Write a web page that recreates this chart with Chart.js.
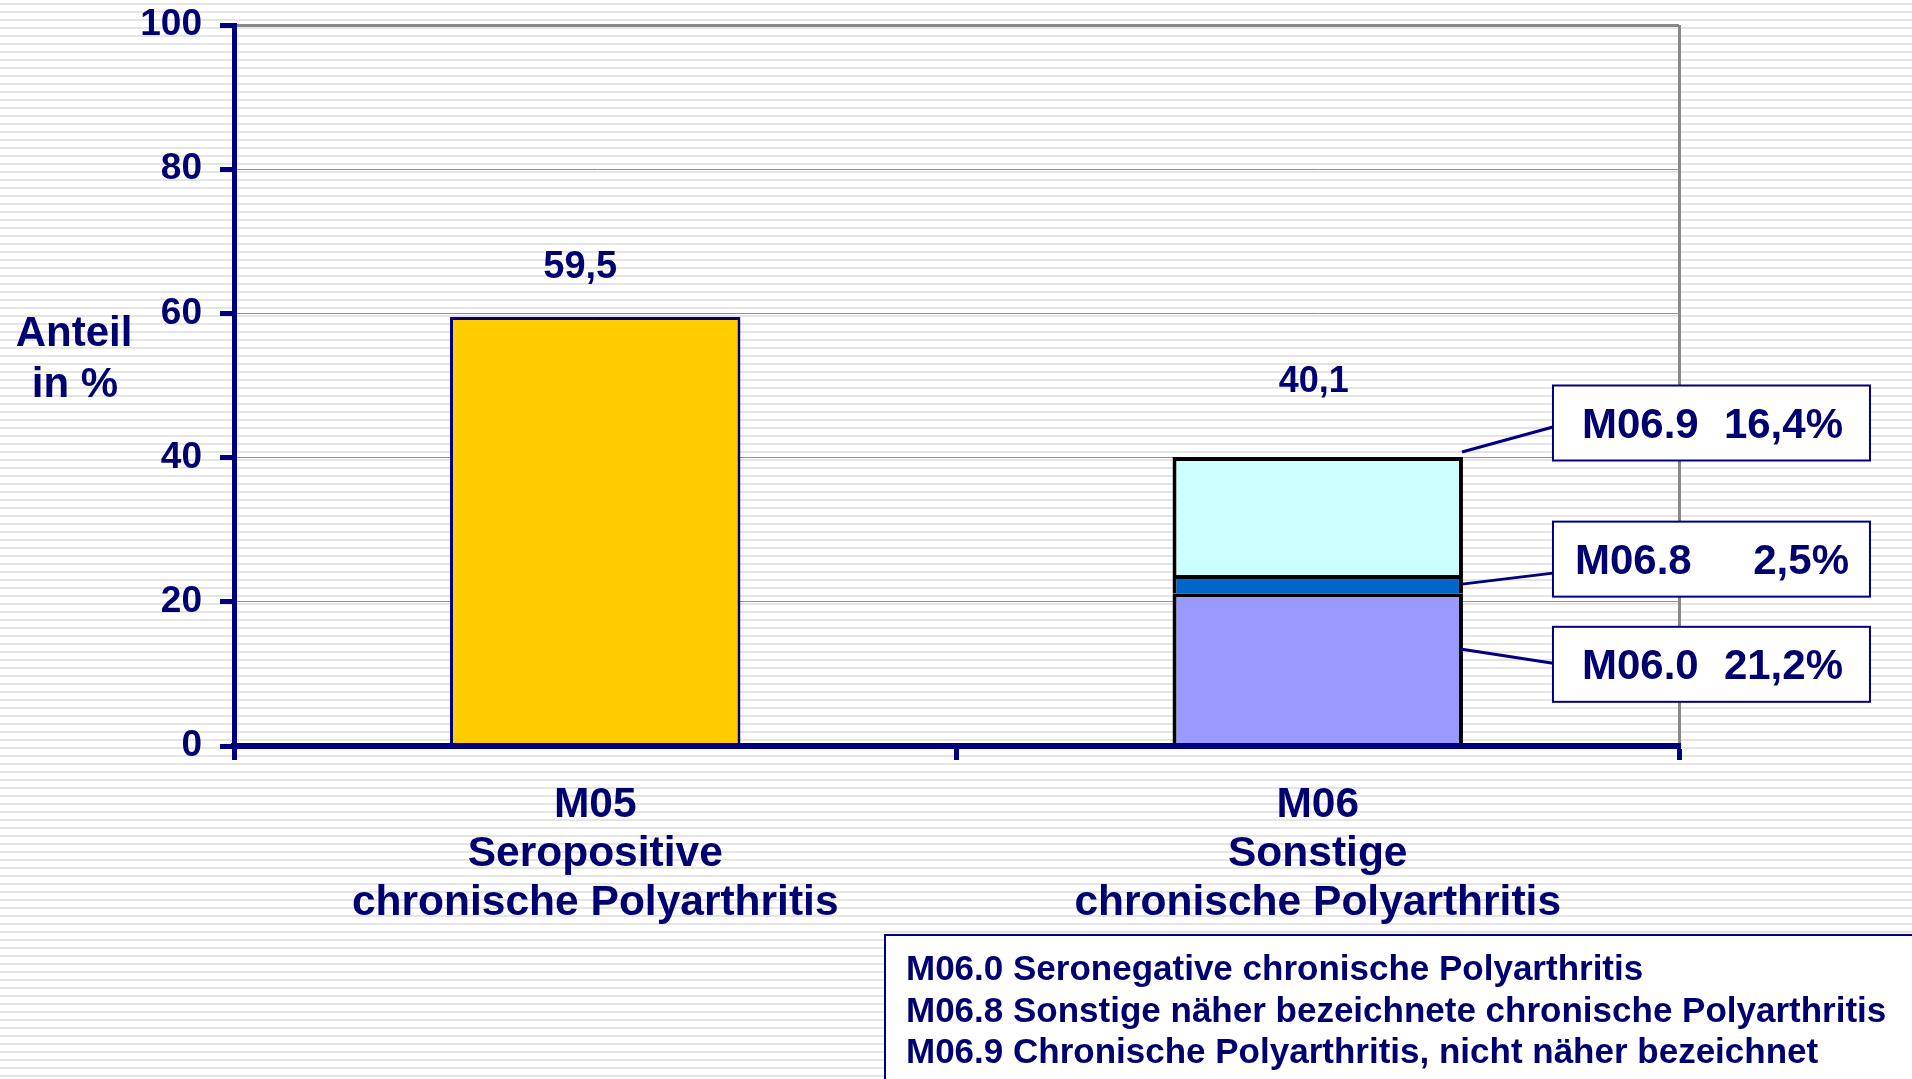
<!DOCTYPE html>
<html>
<head>
<meta charset="utf-8">
<script src="https://cdn.jsdelivr.net/npm/chart.js"></script>
<style>
html,body{margin:0;padding:0;overflow:hidden;}
body{width:1912px;height:1079px;
background:repeating-linear-gradient(to bottom,#ffffff 0px,#ffffff 3px,#e2e2e2 3px,#e6e6e6 5px,#ffffff 5px,#ffffff 8px);}
#wrap{position:absolute;left:0;top:0;width:1912px;height:1079px;}
</style>
</head>
<body>
<div id="wrap"><canvas id="c"></canvas></div>
<script>
// ---- data ----
const categories = [
  ['M05', 'Seropositive', 'chronische Polyarthritis'],
  ['M06', 'Sonstige', 'chronische Polyarthritis']
];
const seriesNames = ['M05', 'M06.0', 'M06.8', 'M06.9'];
const m05Values  = [59.5, null];
const m060Values = [null, 21.2];
const m068Values = [null, 2.5];
const m069Values = [null, 16.4];
const calloutCodes  = ['M06.0', 'M06.8', 'M06.9'];
const calloutShares = ['21,2%', '2,5%', '16,4%'];
const yTickValues = [0, 20, 40, 60, 80, 100];
const yAxisTitle = ['Anteil', 'in %'];
const legendLines = [
  'M06.0 Seronegative chronische Polyarthritis',
  'M06.8 Sonstige näher bezeichnete chronische Polyarthritis',
  'M06.9 Chronische Polyarthritis, nicht näher bezeichnet'
];

// ---- styles ----
const FONT = '"Liberation Sans", Arial, Helvetica, sans-serif';
const NAVY = '#000080';
const TEXT = '#000070';
Chart.defaults.font.family = FONT;

const fmt = v => v.toFixed(1).replace('.', ',');

const totalLabelStyle = [
  {dx: -15, dy: -39, size: 38},
  {dx: -4,  dy: -65, size: 36}
];
// callout layout, relative to segment centre (datasets 1..3)
const calloutStyle = [
  {boxDy: -5,  startDy: -20, endDy: -6,  lpad: 29, rpad: 27},
  {boxDy: -25, startDy: 0,   endDy: -11, lpad: 22, rpad: 21},
  {boxDy: -93, startDy: -64, endDy: -89, lpad: 29, rpad: 27}
];

const overlay = {
  id: 'overlay',
  afterDraw(chart) {
    const ctx = chart.ctx;
    const ds = chart.data.datasets;
    ctx.save();

    // y axis title (horizontal)
    ctx.fillStyle = TEXT;
    ctx.font = 'bold 42px ' + FONT;
    ctx.textAlign = 'center';
    ctx.textBaseline = 'alphabetic';
    ctx.fillText(yAxisTitle[0], 74, 346);
    ctx.fillText(yAxisTitle[1], 75, 397);

    // total labels above each stack
    categories.forEach((c, i) => {
      let top = null, sum = 0;
      ds.forEach((d, di) => {
        const v = d.data[i];
        if (v === null || v === undefined) return;
        sum += v;
        const el = chart.getDatasetMeta(di).data[i];
        if (!top || el.y < top.y) top = el;
      });
      if (!top) return;
      const st = totalLabelStyle[i];
      ctx.font = 'bold ' + st.size + 'px ' + FONT;
      ctx.fillStyle = TEXT;
      ctx.textAlign = 'center';
      ctx.fillText(fmt(sum), top.x + st.dx, top.y + st.dy);
    });

    // callouts for M06 segments
    for (let k = 0; k < 3; k++) {
      const el = chart.getDatasetMeta(k + 1).data[1];
      const st = calloutStyle[k];
      const right = el.x + el.width / 2;
      const cy = (el.y + el.base) / 2;
      const boxL = right + 90, boxW = 317, boxH = 75;
      const boxC = cy + st.boxDy;
      ctx.strokeStyle = NAVY;
      ctx.lineWidth = 3;
      ctx.beginPath();
      ctx.moveTo(right - 1, cy + st.startDy);
      ctx.lineTo(boxL, cy + st.endDy);
      ctx.stroke();
      ctx.fillStyle = '#ffffff';
      ctx.fillRect(boxL, boxC - boxH / 2, boxW, boxH);
      ctx.lineWidth = 2;
      ctx.strokeRect(boxL, boxC - boxH / 2, boxW, boxH);
      ctx.fillStyle = TEXT;
      ctx.font = 'bold 42px ' + FONT;
      ctx.textAlign = 'left';
      ctx.fillText(calloutCodes[k], boxL + st.lpad, boxC + 15);
      ctx.textAlign = 'right';
      ctx.fillText(calloutShares[k], boxL + boxW - st.rpad, boxC + 15);
    }

    // legend box
    ctx.fillStyle = '#ffffff';
    ctx.fillRect(885, 935, 1040, 160);
    ctx.strokeStyle = NAVY;
    ctx.lineWidth = 2;
    ctx.strokeRect(885, 935, 1040, 160);
    ctx.fillStyle = TEXT;
    ctx.font = 'bold 35px ' + FONT;
    ctx.textAlign = 'left';
    legendLines.forEach((t, i) => ctx.fillText(t, 906, 980 + i * 41.5));

    ctx.restore();
  }
};

new Chart(document.getElementById('c'), {
  type: 'bar',
  data: {
    labels: categories,
    datasets: [
      {label: seriesNames[0], data: m05Values,  backgroundColor: '#FFCC00', borderColor: NAVY,     borderWidth: 3},
      {label: seriesNames[1], data: m060Values, backgroundColor: '#9999FF', borderColor: '#000000', borderWidth: 4},
      {label: seriesNames[2], data: m068Values, backgroundColor: '#0066CC', borderColor: '#000000', borderWidth: 4},
      {label: seriesNames[3], data: m069Values, backgroundColor: '#CCFFFF', borderColor: '#000000', borderWidth: 4}
    ]
  },
  options: {
    responsive: true,
    maintainAspectRatio: false,
    animation: false,
    devicePixelRatio: 1,
    layout: {padding: {left: 0, right: 233, top: 25, bottom: 0}},
    datasets: {bar: {barPercentage: 0.402, categoryPercentage: 1.0}},
    plugins: {legend: {display: false}, tooltip: {enabled: false}},
    scales: {
      x: {
        stacked: true,
        offset: true,
        grid: {
          color: c => (c.type === 'scale') ? '#888888' : 'rgba(0,0,0,0)',
          lineWidth: 3,
          tickColor: NAVY,
          tickWidth: 5,
          tickLength: 14
        },
        border: {color: NAVY, width: 6, z: 1},
        ticks: {
          color: TEXT,
          font: {size: 42.5, weight: 'bold', lineHeight: 1.153},
          padding: 21,
          maxRotation: 0,
          autoSkip: false
        },
        afterFit: s => { s.height = 333; s.paddingLeft = 0; s.paddingRight = 0; }
      },
      y: {
        stacked: true,
        min: 0,
        max: 100,
        afterBuildTicks: s => { s.ticks = yTickValues.map(v => ({value: v})); },
        grid: {
          color: c => (c.tick && c.tick.value === 100) ? '#888888' : '#8a8ac4',
          lineWidth: c => (c.tick && c.tick.value === 100) ? 3 : 1,
          tickColor: NAVY,
          tickWidth: 5,
          tickLength: 14
        },
        border: {color: NAVY, width: 5, z: 1},
        ticks: {
          color: TEXT,
          font: {size: 37, weight: 'bold'},
          padding: 18
        },
        afterFit: s => { s.width = 234; s.paddingTop = 0; s.paddingBottom = 0; }
      }
    }
  },
  plugins: [overlay]
});
</script>
</body>
</html>
